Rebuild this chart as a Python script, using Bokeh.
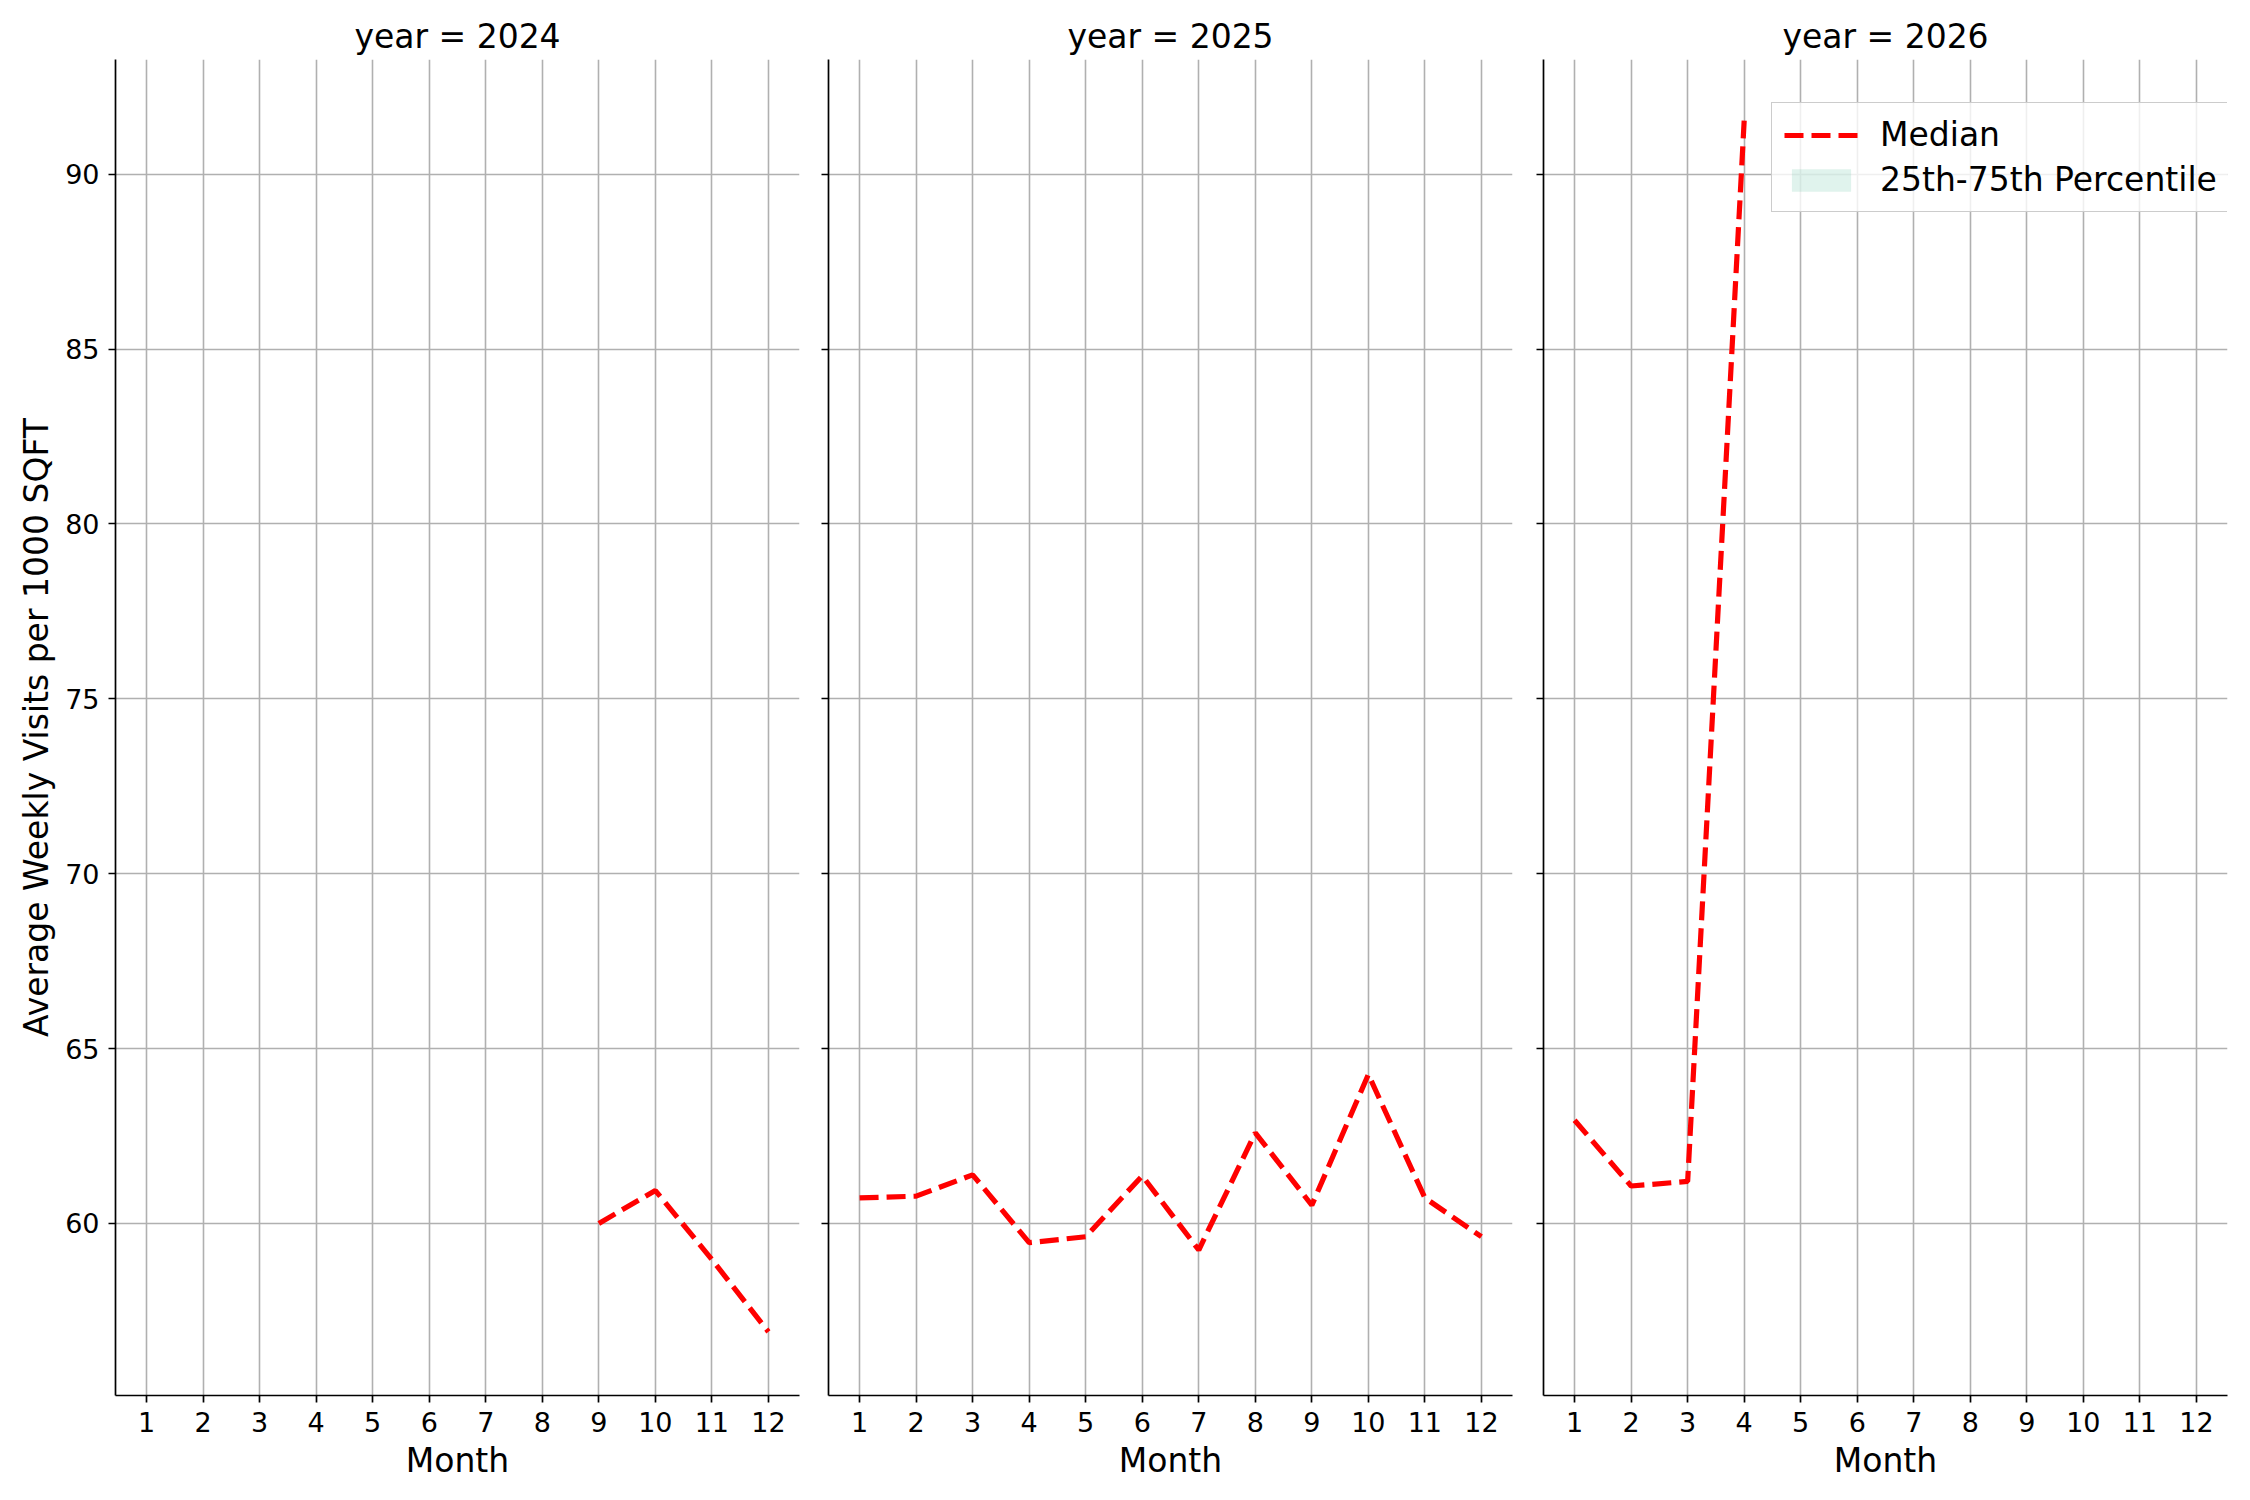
from bokeh.plotting import figure
from bokeh.layouts import row
from bokeh.models import Range1d, FixedTicker, CustomJSTickFormatter, Legend, LegendItem
from bokeh.embed import file_html
from bokeh.resources import INLINE

# ---- data ----
years = [2024, 2025, 2026]
month_ticks = [1, 2, 3, 4, 5, 6, 7, 8, 9, 10, 11, 12]
y_ticks = [60, 65, 70, 75, 80, 85, 90]
y_limits = [55.08, 93.28]

months_2024 = [9, 10, 11, 12]
median_2024 = [60.0, 60.94, 58.97, 56.9]
months_2025 = [1, 2, 3, 4, 5, 6, 7, 8, 9, 10, 11, 12]
median_2025 = [60.73, 60.78, 61.39, 59.45, 59.62, 61.36, 59.24, 62.59, 60.52, 64.26, 60.73, 59.62]
months_2026 = [1, 2, 3, 4]
median_2026 = [62.95, 61.07, 61.20, 91.53]

# 25th/75th percentiles (band collapses onto the median: one value per month)
p25_2024, p75_2024 = list(median_2024), list(median_2024)
p25_2025, p75_2025 = list(median_2025), list(median_2025)
p25_2026, p75_2026 = list(median_2026), list(median_2026)

panels = [
    (2024, months_2024, median_2024, p25_2024, p75_2024),
    (2025, months_2025, median_2025, p25_2025, p75_2025),
    (2026, months_2026, median_2026, p25_2026, p75_2026),
]

FONT = "DejaVu Sans"
GRID = "#b0b0b0"

y_range = Range1d(y_limits[0], y_limits[1])
xpad = 0.05 * (max(month_ticks) - min(month_ticks))

FRAME_W = 684
FRAME_H = 1336
TOP = 59
BOTTOM = 95
borders = [(115, 14), (15, 15), (16, 13)]

figs = []
for i, (yr, mo, med, p25, p75) in enumerate(panels):
    bl, br = borders[i]
    p = figure(
        width=bl + FRAME_W + br, height=TOP + FRAME_H + BOTTOM,
        x_range=Range1d(min(month_ticks) - xpad, max(month_ticks) + xpad),
        y_range=y_range,
        output_backend="svg", toolbar_location=None,
        min_border_left=bl, min_border_right=br, min_border_top=TOP, min_border_bottom=BOTTOM,
        title=f"year = {yr}",
    )
    p.outline_line_color = None
    p.background_fill_color = "white"
    p.border_fill_color = "white"

    p.title.align = "center"
    p.title.text_font = FONT
    p.title.text_font_size = "33px"
    p.title.text_font_style = "normal"
    p.title.text_color = "black"
    p.title.standoff = 8

    # axes
    for ax in (p.xaxis[0], p.yaxis[0]):
        ax.axis_line_color = "black"
        ax.axis_line_width = 1.7
        ax.major_tick_line_color = "black"
        ax.major_tick_line_width = 1.7
        ax.major_tick_out = 7
        ax.major_tick_in = 0
        ax.minor_tick_line_color = None
        ax.major_label_text_font = FONT
        ax.major_label_text_font_size = "27px"
        ax.major_label_text_color = "black"
        ax.axis_label_text_font = FONT
        ax.axis_label_text_font_size = "33px"
        ax.axis_label_text_font_style = "normal"
        ax.axis_label_text_color = "black"
        ax.major_label_standoff = 9
        ax.axis_label_standoff = 10

    p.xaxis[0].ticker = FixedTicker(ticks=month_ticks)
    p.yaxis[0].ticker = FixedTicker(ticks=y_ticks)
    p.xaxis[0].axis_label = "Month"
    p.xaxis[0].axis_label_standoff = 6
    if i == 0:
        p.yaxis[0].axis_label = "Average Weekly Visits per 1000 SQFT"
        p.yaxis[0].axis_label_standoff = 6
    else:
        p.yaxis[0].formatter = CustomJSTickFormatter(code="return '';")
        p.yaxis[0].major_label_standoff = 0

    p.xgrid[0].ticker = FixedTicker(ticks=month_ticks)
    p.ygrid[0].ticker = FixedTicker(ticks=y_ticks)
    for g in (p.xgrid[0], p.ygrid[0]):
        g.grid_line_color = GRID
        g.grid_line_width = 1.6

    band = p.varea(x=mo, y1=p25, y2=p75, fill_color="#66c2a5", fill_alpha=0.2)
    line = p.line(x=mo, y=med, line_color="red", line_width=5.2, line_dash="19 8")

    if i == 2:
        legend = Legend(
            items=[LegendItem(label="Median", renderers=[line]),
                   LegendItem(label="25th-75th Percentile", renderers=[band])],
            location=(FRAME_W - 456, FRAME_H - 43 - 110),
            label_text_font=FONT, label_text_font_size="33px", label_text_color="black",
            glyph_width=74, glyph_height=28, label_standoff=22, padding=12,
            spacing=6, margin=0,
            border_line_color="#cccccc", border_line_width=1.7, border_line_alpha=1.0,
            background_fill_color="white", background_fill_alpha=0.8,
        )
        p.add_layout(legend, "center")
    figs.append(p)

layout = row(*figs, spacing=0)
open("out.html", "w").write(file_html(layout, INLINE))
